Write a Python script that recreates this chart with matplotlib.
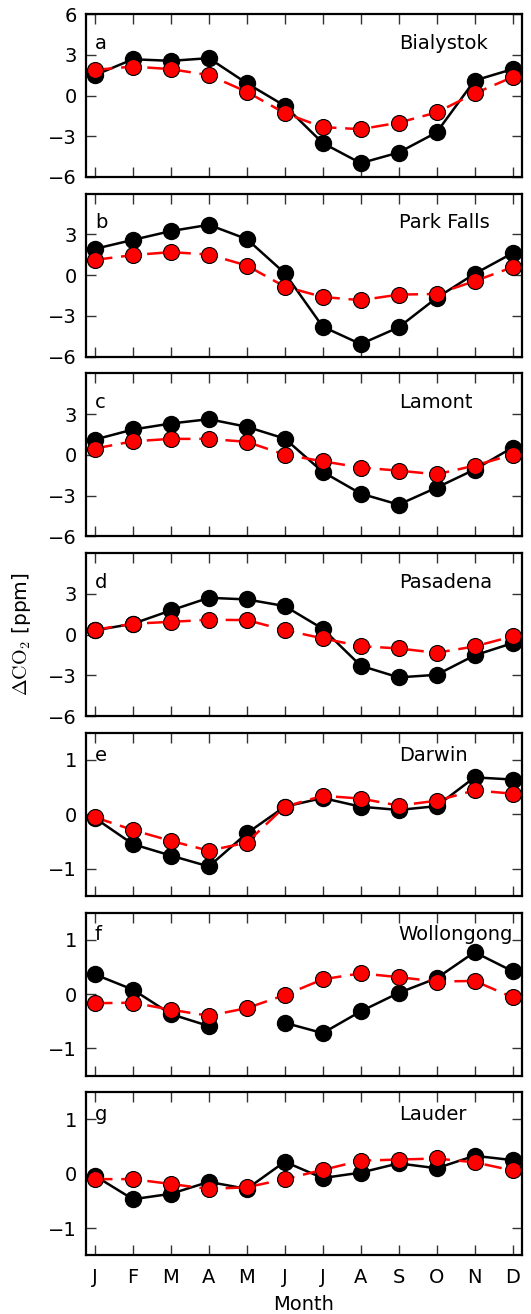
import numpy as np
import matplotlib
matplotlib.use("Agg")
import matplotlib.pyplot as plt

plt.rcParams["font.family"] = "DejaVu Sans"
plt.rcParams["mathtext.fontset"] = "cm"
plt.rcParams["xtick.direction"] = "in"
plt.rcParams["ytick.direction"] = "in"
plt.rcParams["xtick.top"] = True
plt.rcParams["ytick.right"] = True

months = ["J", "F", "M", "A", "M", "J", "J", "A", "S", "O", "N", "D"]
letters = ["a", "b", "c", "d", "e", "f", "g"]
sites = ["Bialystok", "Park Falls", "Lamont", "Pasadena", "Darwin", "Wollongong", "Lauder"]

# black: observed seasonal cycle, red: model
obs_bialystok = [1.5, 2.67, 2.55, 2.75, 0.9, -0.76, -3.5, -4.98, -4.2, -2.72, 1.1, 1.94]
mod_bialystok = [1.89, 2.13, 1.94, 1.5, 0.27, -1.3, -2.33, -2.48, -2.0, -1.25, 0.15, 1.35]
obs_parkfalls = [1.94, 2.6, 3.25, 3.71, 2.66, 0.15, -3.79, -5.07, -3.84, -1.67, 0.1, 1.62]
mod_parkfalls = [1.13, 1.48, 1.7, 1.52, 0.71, -0.84, -1.6, -1.84, -1.43, -1.38, -0.44, 0.59]
obs_lamont = [1.13, 1.87, 2.31, 2.63, 2.07, 1.2, -1.25, -2.85, -3.66, -2.41, -1.08, 0.54]
mod_lamont = [0.47, 1.0, 1.18, 1.18, 0.96, 0.02, -0.47, -0.93, -1.16, -1.43, -0.79, 0.02]
obs_pasadena = [0.31, 0.8, 1.78, 2.71, 2.59, 2.1, 0.43, -2.29, -3.15, -2.96, -1.53, -0.63]
mod_pasadena = [0.36, 0.8, 0.94, 1.09, 1.07, 0.33, -0.28, -0.85, -1.02, -1.34, -0.87, -0.13]
obs_darwin = [-0.07, -0.55, -0.76, -0.96, -0.35, 0.14, 0.30, 0.14, 0.08, 0.15, 0.68, 0.64]
mod_darwin = [-0.055, -0.29, -0.49, -0.67, -0.52, 0.14, 0.34, 0.29, 0.16, 0.25, 0.44, 0.38]
obs_wollongong = [0.36, 0.08, -0.37, -0.59, np.nan, -0.53, -0.72, -0.32, 0.02, 0.29, 0.77, 0.42]
mod_wollongong = [-0.17, -0.16, -0.29, -0.40, -0.26, -0.02, 0.27, 0.38, 0.31, 0.23, 0.24, -0.06]
obs_lauder = [-0.04, -0.47, -0.37, -0.15, -0.28, 0.22, -0.08, 0.02, 0.19, 0.10, 0.33, 0.25]
mod_lauder = [-0.10, -0.10, -0.19, -0.28, -0.25, -0.10, 0.07, 0.24, 0.26, 0.28, 0.21, 0.06]

obs = [obs_bialystok, obs_parkfalls, obs_lamont, obs_pasadena,
       obs_darwin, obs_wollongong, obs_lauder]
mod = [mod_bialystok, mod_parkfalls, mod_lamont, mod_pasadena,
       mod_darwin, mod_wollongong, mod_lauder]

x = np.arange(1, 13)

W, H = 531, 1314
fig = plt.figure(figsize=(W / 100, H / 100), dpi=100)

left, right = 85.5, 522
top0, step, ph = 14, 179.7, 163

for i in range(7):
    top = top0 + i * step
    ax = fig.add_axes([left / W, 1 - (top + ph) / H, (right - left) / W, ph / H])
    ax.plot(x, obs[i], "-", color="black", lw=1.8, marker="o", ms=11.5,
            mfc="black", mec="black")
    ax.plot(x, mod[i], "--", color="red", lw=1.8, dashes=(7, 3.5), marker="o",
            ms=11.5, mfc="red", mec="black", mew=0.8)
    ax.set_xlim(0.75, 12.25)
    ax.set_xticks(x)
    if i < 4:
        ax.set_ylim(-6, 6)
        ax.set_yticks([-6, -3, 0, 3, 6] if i == 0 else [-6, -3, 0, 3])
        ty = 3.45
    else:
        ax.set_ylim(-1.5, 1.5)
        ax.set_yticks([-1, 0, 1])
        ty = 0.99
    ax.text(1.0, ty, letters[i], fontsize=14, ha="left", va="baseline")
    ax.text(9.0, ty, sites[i], fontsize=14, ha="left", va="baseline")
    for s in ax.spines.values():
        s.set_linewidth(1.6)
    ax.tick_params(length=7, width=1, labelsize=14, color="#333333")
    ax.tick_params(axis="y", pad=6)
    ax.tick_params(axis="x", pad=9)
    if i == 6:
        ax.set_xticklabels(months)
    else:
        ax.set_xticklabels([])

fig.text(0.041, 1 - 634 / H, r"$\Delta\mathrm{CO}_2$ [ppm]", rotation=90,
         ha="center", va="center", fontsize=14.5)
fig.text(304 / W, 1 - 1304 / H, "Month", ha="center", va="center", fontsize=14)

fig.savefig("out.png", dpi=100)
